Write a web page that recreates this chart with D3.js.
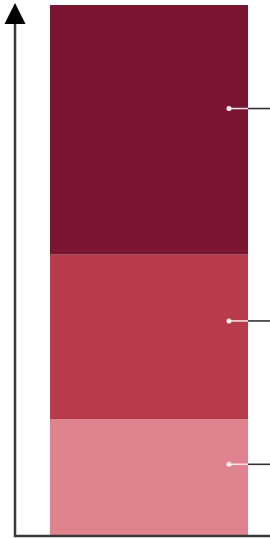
<!DOCTYPE html>
<html><head><meta charset="utf-8">
<script src="https://cdn.jsdelivr.net/npm/d3@7"></script>
<style>html,body{margin:0;padding:0;background:#fff;overflow:hidden}</style>
</head><body>
<svg id="c" width="270" height="539"></svg>
<script>
const categories = ["Bottom", "Middle", "Top"];
const values = [22, 31, 47];
const colors = ["#df838e", "#b83b4b", "#7a1631"];
const labelAt = [13.5, 40.5, 80.5];

const svg = d3.select("#c");
const y = d3.scaleLinear().domain([0, 100]).range([536, 5]);
const x = d3.scaleBand().domain(["bar"]).range([50, 248]).padding(0);

let acc = 0;
const stacked = values.map((v, i) => { const s = {cat: categories[i], y0: acc, y1: acc + v, color: colors[i], lab: labelAt[i]}; acc += v; return s; });

svg.selectAll("rect.seg").data(stacked).enter().append("rect")
  .attr("class", "seg")
  .attr("x", x("bar")).attr("width", x.bandwidth())
  .attr("y", d => y(d.y1)).attr("height", d => y(d.y0) - y(d.y1))
  .attr("fill", d => d.color);

// axes
svg.append("line").attr("x1", 15).attr("x2", 15).attr("y1", y(0) + 1).attr("y2", 20)
  .attr("stroke", "#3a3a3a").attr("stroke-width", 2.5);
svg.append("line").attr("x1", 14).attr("x2", 270).attr("y1", y(0)).attr("y2", y(0))
  .attr("stroke", "#3a3a3a").attr("stroke-width", 2.5);
svg.append("path").attr("d", "M15,3 L25.5,24 L4.5,24 Z").attr("fill", "#000");

// leader lines
const g = svg.selectAll("g.lab").data(stacked).enter().append("g").attr("class", "lab");
g.append("line").attr("x1", 229).attr("x2", 248).attr("y1", d => y(d.lab)).attr("y2", d => y(d.lab))
  .attr("stroke", "#fbe6ea").attr("stroke-width", 1.5);
g.append("line").attr("x1", 248).attr("x2", 272).attr("y1", d => y(d.lab)).attr("y2", d => y(d.lab))
  .attr("stroke", "#333").attr("stroke-width", 1.6);
g.append("circle").attr("cx", 229).attr("cy", d => y(d.lab)).attr("r", 2.5).attr("fill", "#fff3f5");
</script>
</body></html>
